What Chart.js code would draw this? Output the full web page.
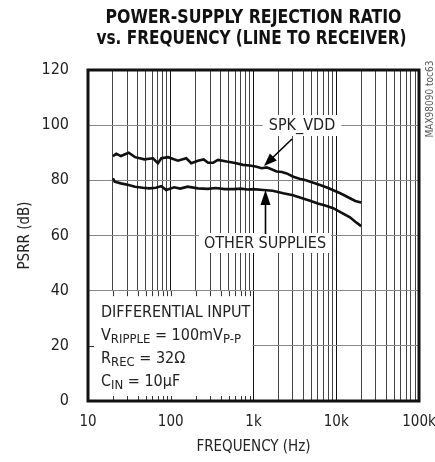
<!DOCTYPE html>
<html>
<head>
<meta charset="utf-8">
<script src="https://cdn.jsdelivr.net/npm/chart.js@4.4.0/dist/chart.umd.min.js"></script>
<style>
  html, body { margin: 0; padding: 0; background: #fff; }
</style>
</head>
<body>
<canvas id="c" width="435" height="462"></canvas>
<script>
const FONT = "'Liberation Sans Narrow', 'DejaVu Sans Condensed', 'Liberation Sans', sans-serif";

// SPK_VDD curve
const spkFreq = [20, 22, 25, 31, 37, 48, 61, 70, 77, 93, 122, 154, 177, 213, 250, 283, 326, 372, 474, 600,
  747, 900, 1060, 1256, 1444, 1650, 1906, 2200, 2518, 3027, 3600, 4300, 5288, 6500, 8000, 9200, 11000,
  12500, 14650, 17000, 20000];
const spkPsrr = [88.8, 89.6, 88.8, 90.0, 88.4, 87.6, 88.0, 86.2, 88.0, 88.4, 87.1, 88.0, 86.2, 87.1, 87.6,
  86.4, 86.4, 87.4, 86.8, 86.3, 85.6, 85.4, 85.0, 84.4, 84.7, 84.0, 83.2, 83.0, 82.5, 81.3, 80.6, 80.0,
  79.1, 78.2, 77.2, 76.4, 75.4, 74.6, 73.5, 72.5, 72.0];

// other supplies curve
const otherFreq = [20, 21, 25, 31, 37, 46, 55, 66, 77, 88, 110, 130, 160, 213, 280, 350, 450, 570, 700, 850,
  1000, 1313, 1700, 2291, 3000, 3800, 4822, 6000, 7500, 9200, 11500, 14650, 17000, 20000];
const otherPsrr = [80.7, 79.5, 78.9, 78.3, 77.7, 77.3, 77.1, 77.3, 77.9, 76.5, 77.5, 77.0, 77.7, 77.1, 76.9,
  77.2, 76.8, 76.8, 77.0, 76.7, 76.8, 76.5, 76.2, 75.3, 74.6, 73.6, 72.6, 71.6, 70.8, 69.9, 68.3, 66.6,
  65.0, 63.4];

const xTickLabels = { 10: '10', 100: '100', 1000: '1k', 10000: '10k', 100000: '100k' };
const yMin = 0, yMax = 120, yStep = 20;
const titleLines = ['POWER-SUPPLY REJECTION RATIO', 'vs. FREQUENCY (LINE TO RECEIVER)'];

function toPoints(xs, ys) {
  return xs.map((x, i) => ({ x: x, y: ys[i] }));
}

function logTicks() {
  const ticks = [];
  for (let e = 1; e < 5; e++) {
    for (let m = 1; m < 10; m++) ticks.push({ value: m * Math.pow(10, e) });
  }
  ticks.push({ value: 100000 });
  return ticks;
}

function isDecade(v) {
  return Math.abs(Math.log10(v) - Math.round(Math.log10(v))) < 1e-9;
}

// text with subscripts: parts = [[text, isSub], ...]
function drawParts(ctx, parts, x, y) {
  for (const [t, sub] of parts) {
    ctx.font = (sub ? '13px ' : '16px ') + FONT;
    ctx.fillText(t, x, sub ? y + 4 : y);
    x += ctx.measureText(t).width;
  }
}

function arrow(ctx, x0, y0, x1, y1, len, half) {
  const a = Math.atan2(y1 - y0, x1 - x0);
  ctx.strokeStyle = '#000';
  ctx.lineWidth = 1.6;
  ctx.beginPath();
  ctx.moveTo(x0, y0);
  ctx.lineTo(x1 - Math.cos(a) * len * 0.8, y1 - Math.sin(a) * len * 0.8);
  ctx.stroke();
  ctx.fillStyle = '#000';
  ctx.beginPath();
  ctx.moveTo(x1, y1);
  ctx.lineTo(x1 - Math.cos(a) * len - Math.sin(a) * half, y1 - Math.sin(a) * len + Math.cos(a) * half);
  ctx.lineTo(x1 - Math.cos(a) * len + Math.sin(a) * half, y1 - Math.sin(a) * len - Math.cos(a) * half);
  ctx.closePath();
  ctx.fill();
}

const annotations = {
  id: 'annotations',
  beforeDatasetsDraw(chart) {
    const { ctx, scales: { x, y }, chartArea: ca } = chart;
    ctx.save();

    // conditions box in the lower left corner
    const bx1 = x.getPixelForValue(1000) - 1;
    const by0 = y.getPixelForValue(40) + 0.5;
    ctx.fillStyle = '#fff';
    ctx.fillRect(ca.left, by0, bx1 - ca.left, ca.bottom - by0);

    ctx.strokeStyle = '#333';
    ctx.lineWidth = 1;
    ctx.beginPath();
    for (const t of logTicks()) {
      if (t.value <= 10 || t.value >= 1000) continue;
      const px = Math.round(x.getPixelForValue(t.value)) + 0.5;
      ctx.moveTo(px, by0);
      ctx.lineTo(px, by0 + 5);
      ctx.moveTo(px, ca.bottom);
      ctx.lineTo(px, ca.bottom - 5);
    }
    const y20 = Math.round(y.getPixelForValue(20)) + 0.5;
    ctx.moveTo(ca.left, y20);
    ctx.lineTo(ca.left + 6, y20);
    ctx.stroke();

    ctx.fillStyle = '#222';
    ctx.textAlign = 'left';
    ctx.textBaseline = 'middle';
    const tx = ca.left + 13;
    drawParts(ctx, [['DIFFERENTIAL INPUT', false]], tx, 313);
    drawParts(ctx, [['V', false], ['RIPPLE', true], [' = 100mV', false], ['P-P', true]], tx, 336);
    drawParts(ctx, [['R', false], ['REC', true], [' = 32\u03A9', false]], tx, 359);
    drawParts(ctx, [['C', false], ['IN', true], [' = 10\u00B5F', false]], tx, 382);

    // curve labels
    ctx.font = '16px ' + FONT;
    ctx.textAlign = 'center';
    let w = ctx.measureText('SPK_VDD').width;
    ctx.fillStyle = '#fff';
    ctx.fillRect(302 - w / 2 - 6, 115, w + 12, 21);
    ctx.fillStyle = '#222';
    ctx.fillText('SPK_VDD', 302, 126);

    w = ctx.measureText('OTHER SUPPLIES').width;
    ctx.fillStyle = '#fff';
    ctx.fillRect(265 - w / 2 - 5, 233, w + 10, 20);
    ctx.fillStyle = '#222';
    ctx.fillText('OTHER SUPPLIES', 265, 244);
    ctx.restore();
  },
  afterDatasetsDraw(chart) {
    const { ctx } = chart;
    ctx.save();
    arrow(ctx, 292, 139, 264, 166, 13, 5);
    arrow(ctx, 265.5, 234, 265.5, 190, 15, 5);
    ctx.restore();
  },
  afterDraw(chart) {
    const { ctx, chartArea: ca } = chart;
    ctx.save();
    ctx.strokeStyle = '#111';
    ctx.lineWidth = 3;
    ctx.strokeRect(ca.left, ca.top, ca.right - ca.left, ca.bottom - ca.top);

    ctx.fillStyle = '#111';
    ctx.textAlign = 'center';
    ctx.textBaseline = 'middle';
    ctx.font = 'bold 20px ' + FONT;
    const cx = (ca.left + ca.right) / 2;
    ctx.fillText(titleLines[0], cx, 18, 296);
    ctx.fillText(titleLines[1], cx - 2, 39, 310);

    ctx.translate(430, 99);
    ctx.rotate(-Math.PI / 2);
    ctx.font = '10px ' + FONT;
    ctx.fillStyle = '#555';
    ctx.fillText('MAX98090 toc63', 0, 0);
    ctx.restore();
  }
};

new Chart(document.getElementById('c'), {
  type: 'line',
  data: {
    datasets: [
      {
        label: 'SPK_VDD',
        data: toPoints(spkFreq, spkPsrr),
        borderColor: '#111',
        borderWidth: 2.6,
        pointRadius: 0,
        tension: 0
      },
      {
        label: 'OTHER SUPPLIES',
        data: toPoints(otherFreq, otherPsrr),
        borderColor: '#111',
        borderWidth: 2.6,
        pointRadius: 0,
        tension: 0
      }
    ]
  },
  options: {
    responsive: false,
    animation: false,
    layout: { padding: { top: 70, right: 16, left: 0, bottom: 0 } },
    plugins: { legend: { display: false }, tooltip: { enabled: false } },
    scales: {
      x: {
        type: 'logarithmic',
        min: 10,
        max: 100000,
        afterBuildTicks(scale) { scale.ticks = logTicks(); },
        afterFit(scale) {
          scale.height = 61;
          scale.paddingLeft = 0;
          scale.paddingRight = 0;
        },
        ticks: {
          autoSkip: false,
          maxRotation: 0,
          padding: 12,
          color: '#222',
          font: { family: FONT, size: 15 },
          callback: (v) => xTickLabels[v] || ''
        },
        grid: {
          drawTicks: false,
          color: (c) => (c.tick && isDecade(c.tick.value)) ? '#111' : '#444',
          lineWidth: 1
        },
        border: { display: false },
        title: {
          display: true,
          text: 'FREQUENCY (Hz)',
          color: '#222',
          font: { family: FONT, size: 15 },
          padding: { top: 0, bottom: 6 }
        }
      },
      y: {
        min: yMin,
        max: yMax,
        afterFit(scale) { scale.width = 88; },
        ticks: {
          stepSize: yStep,
          padding: 19,
          color: '#222',
          font: { family: FONT, size: 16 }
        },
        grid: { drawTicks: false, color: '#888', lineWidth: 1 },
        border: { display: false },
        title: {
          display: true,
          text: 'PSRR (dB)',
          color: '#222',
          font: { family: FONT, size: 15 },
          padding: { top: 16, bottom: 0 }
        }
      }
    }
  },
  plugins: [annotations]
});
</script>
</body>
</html>
